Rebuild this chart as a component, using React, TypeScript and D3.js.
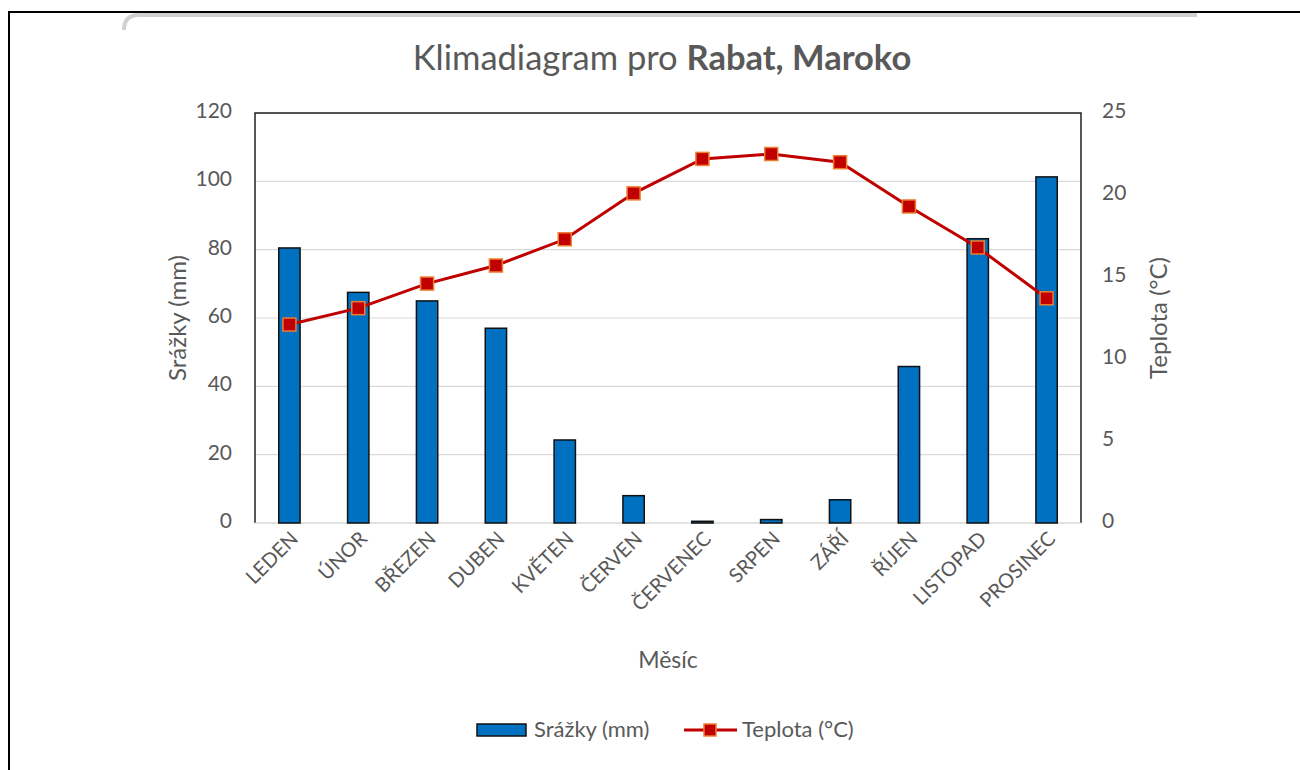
import React, { useEffect, useRef } from 'react';
import * as d3 from 'd3';

const months = ['LEDEN', 'ÚNOR', 'BŘEZEN', 'DUBEN', 'KVĚTEN', 'ČERVEN', 'ČERVENEC', 'SRPEN', 'ZÁŘÍ', 'ŘÍJEN', 'LISTOPAD', 'PROSINEC'];
const precipitation = [80.5, 67.5, 65, 57, 24.3, 8, 0.5, 1, 6.8, 45.8, 83.2, 101.3];
const temperature = [12.1, 13.1, 14.6, 15.7, 17.3, 20.1, 22.2, 22.5, 22.0, 19.3, 16.8, 13.7];
const precipTicks = [0, 20, 40, 60, 80, 100, 120];
const tempTicks = [0, 5, 10, 15, 20, 25];

const App: React.FC = () => {
  const svgRef = useRef<SVGSVGElement>(null);

  useEffect(() => {
    if (!svgRef.current) return;
    const svg = d3.select(svgRef.current);
    svg.selectAll('*').remove();

    const font = 'Lato, sans-serif';
    const grey = '#595959';

    // outer frame (black lines on top and left)
    svg.append('line').attr('x1', 8).attr('y1', 12).attr('x2', 1300).attr('y2', 12)
      .attr('stroke', '#000').attr('stroke-width', 2);
    svg.append('line').attr('x1', 9).attr('y1', 12).attr('x2', 9).attr('y2', 770)
      .attr('stroke', '#000').attr('stroke-width', 2);

    // chart card
    svg.append('rect').attr('x', 123).attr('y', 13).attr('width', 1074).attr('height', 757).attr('fill', '#fff');
    svg.append('path')
      .attr('d', 'M124,30 Q124,15 139,15 L1197,15')
      .attr('fill', 'none').attr('stroke', '#d0d0d0').attr('stroke-width', 4);

    const left = 255, right = 1081, top = 113, bottom = 523;

    const x = d3.scaleBand<string>().domain(months).range([left, right]).paddingInner(0.69).paddingOuter(0.345);
    const xc = d3.scaleBand<string>().domain(months).range([left, right]);
    const yL = d3.scaleLinear().domain([0, 120]).range([bottom, top]);
    const yR = d3.scaleLinear().domain([0, 25]).range([bottom, top]);

    // gridlines
    svg.append('g').selectAll('line').data(precipTicks.slice(1)).join('line')
      .attr('x1', left).attr('x2', right)
      .attr('y1', d => yL(d)).attr('y2', d => yL(d))
      .attr('stroke', '#d9d9d9').attr('stroke-width', 1.2);

    // plot border
    svg.append('path')
      .attr('d', `M${left},${bottom} L${left},${top} L${right},${top} L${right},${bottom}`)
      .attr('fill', 'none').attr('stroke', '#222').attr('stroke-width', 1.5);
    svg.append('line').attr('x1', left).attr('x2', right).attr('y1', bottom).attr('y2', bottom)
      .attr('stroke', '#d9d9d9').attr('stroke-width', 1.5);

    // bars
    svg.append('g').selectAll('rect').data(precipitation).join('rect')
      .attr('x', (d, i) => x(months[i])!)
      .attr('y', d => yL(d))
      .attr('width', x.bandwidth())
      .attr('height', d => bottom - yL(d))
      .attr('fill', '#0070C0')
      .attr('stroke', '#111').attr('stroke-width', 1.5);

    // temperature line
    const line = d3.line<number>()
      .x((d, i) => xc(months[i])! + xc.bandwidth() / 2)
      .y(d => yR(d));
    svg.append('path').datum(temperature).attr('d', line)
      .attr('fill', 'none').attr('stroke', '#C00000').attr('stroke-width', 3);
    svg.append('g').selectAll('rect').data(temperature).join('rect')
      .attr('x', (d, i) => xc(months[i])! + xc.bandwidth() / 2 - 6.5)
      .attr('y', d => yR(d) - 6.5)
      .attr('width', 13).attr('height', 13)
      .attr('fill', '#C00000').attr('stroke', '#ED7D31').attr('stroke-width', 1.5);

    // left ticks
    svg.append('g').selectAll('text').data(precipTicks).join('text')
      .attr('x', 232).attr('y', d => yL(d) + 5)
      .attr('text-anchor', 'end')
      .attr('font-family', font).attr('font-size', 21).attr('fill', grey)
      .text(d => d);
    // right ticks
    svg.append('g').selectAll('text').data(tempTicks).join('text')
      .attr('x', 1102).attr('y', d => yR(d) + 5)
      .attr('text-anchor', 'start')
      .attr('font-family', font).attr('font-size', 21).attr('fill', grey)
      .text(d => d);

    // x labels
    svg.append('g').selectAll('text').data(months).join('text')
      .attr('text-anchor', 'end')
      .attr('transform', d => `translate(${xc(d)! + xc.bandwidth() / 2 + 10},${540}) rotate(-45)`)
      .attr('font-family', font).attr('font-size', 20).attr('fill', grey)
      .text(d => d);

    // axis titles
    svg.append('text').attr('transform', `translate(186,${(top + bottom) / 2}) rotate(-90)`)
      .attr('text-anchor', 'middle').attr('font-family', font).attr('font-size', 24).attr('fill', grey)
      .text('Srážky (mm)');
    svg.append('text').attr('transform', `translate(1167,${(top + bottom) / 2}) rotate(-90)`)
      .attr('text-anchor', 'middle').attr('font-family', font).attr('font-size', 24).attr('fill', grey)
      .text('Teplota (°C)');
    svg.append('text').attr('x', 668).attr('y', 668)
      .attr('text-anchor', 'middle').attr('font-family', font).attr('font-size', 23).attr('fill', grey)
      .text('Měsíc');

    // title
    const title = svg.append('text').attr('x', 662).attr('y', 70)
      .attr('text-anchor', 'middle').attr('font-family', font).attr('font-size', 34.5).attr('fill', grey);
    title.append('tspan').text('Klimadiagram pro ');
    title.append('tspan').attr('font-weight', 'bold').text('Rabat, Maroko');

    // legend
    const lg = svg.append('g');
    lg.append('rect').attr('x', 477).attr('y', 724).attr('width', 49).attr('height', 12)
      .attr('fill', '#0070C0').attr('stroke', '#111').attr('stroke-width', 1.5);
    lg.append('text').attr('x', 534).attr('y', 737).attr('font-family', font).attr('font-size', 22)
      .attr('fill', grey).text('Srážky (mm)');
    lg.append('line').attr('x1', 684).attr('x2', 737).attr('y1', 730).attr('y2', 730)
      .attr('stroke', '#C00000').attr('stroke-width', 3);
    lg.append('rect').attr('x', 704).attr('y', 724).attr('width', 12).attr('height', 12)
      .attr('fill', '#C00000').attr('stroke', '#ED7D31').attr('stroke-width', 1.5);
    lg.append('text').attr('x', 742).attr('y', 737).attr('font-family', font).attr('font-size', 22)
      .attr('fill', grey).text('Teplota (°C)');
  }, []);

  return (
    <svg ref={svgRef} width={1300} height={770}
      style={{ position: 'absolute', left: 0, top: 0, background: '#fff' }} />
  );
};

export default App;
